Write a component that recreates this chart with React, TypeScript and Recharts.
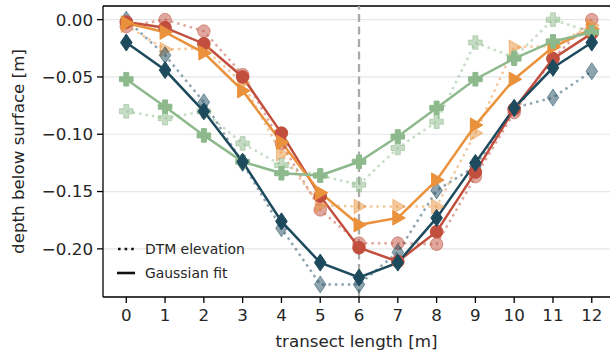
import React from 'react';
import {
  ComposedChart,
  Line,
  XAxis,
  YAxis,
  CartesianGrid,
  ReferenceLine,
  Label
} from 'recharts';

// transect positions [m]
const xs = [0, 1, 2, 3, 4, 5, 6, 7, 8, 9, 10, 11, 12];
const xTicks = [0, 1, 2, 3, 4, 5, 6, 7, 8, 9, 10, 11, 12];
const yTicks = [0, -0.05, -0.1, -0.15, -0.2];

// DTM elevation (dotted) and Gaussian fit (solid), depth below surface [m]
const redDtm = [-0.006, 0.0, -0.01, -0.048, -0.108, -0.166, -0.195, -0.195, -0.196, -0.137, -0.081, -0.034, 0.0];
const redFit = [-0.002, -0.007, -0.021, -0.05, -0.099, -0.154, -0.199, -0.211, -0.185, -0.133, -0.078, -0.034, -0.012];
const orangeDtm = [-0.005, -0.026, -0.025, -0.055, -0.117, -0.162, -0.163, -0.163, -0.163, -0.099, -0.024, -0.023, -0.005];
const orangeFit = [-0.003, -0.011, -0.029, -0.062, -0.107, -0.151, -0.179, -0.173, -0.14, -0.092, -0.052, -0.024, -0.008];
const greenDtm = [-0.08, -0.086, -0.08, -0.108, -0.127, -0.136, -0.144, -0.112, -0.089, -0.02, -0.033, 0.0, -0.011];
const greenFit = [-0.052, -0.076, -0.101, -0.124, -0.134, -0.136, -0.124, -0.102, -0.077, -0.052, -0.034, -0.019, -0.011];
const blueDtm = [0.0, -0.031, -0.072, -0.125, -0.182, -0.231, -0.231, -0.203, -0.149, -0.128, -0.077, -0.068, -0.045];
const blueFit = [-0.02, -0.044, -0.08, -0.124, -0.176, -0.212, -0.225, -0.212, -0.173, -0.125, -0.077, -0.042, -0.02];

const data = xs.map((x, i) => ({
  x,
  redDtm: redDtm[i],
  redFit: redFit[i],
  orangeDtm: orangeDtm[i],
  orangeFit: orangeFit[i],
  greenDtm: greenDtm[i],
  greenFit: greenFit[i],
  blueDtm: blueDtm[i],
  blueFit: blueFit[i],
}));

const RED = '#c24f3d';
const ORANGE = '#ea913c';
const GREEN = '#8db98c';
const BLUE = '#1d4a5d';
const TEXT = '#262626';
const FONT = '"DejaVu Sans", sans-serif';

type Shape = 'circle' | 'tri' | 'plus' | 'diamond';

const makeDot = (shape: Shape, color: string, opacity: number) => (props: any) => {
  const { cx, cy, index } = props;
  if (cx == null || cy == null) return <g key={index} />;
  let el;
  if (shape === 'circle') {
    el = <circle cx={cx} cy={cy} r={6.3} />;
  } else if (shape === 'tri') {
    el = <polygon points={`${cx + 7.5},${cy} ${cx - 5},${cy - 7.2} ${cx - 5},${cy + 7.2}`} />;
  } else if (shape === 'diamond') {
    el = <polygon points={`${cx},${cy - 8.5} ${cx + 5.8},${cy} ${cx},${cy + 8.5} ${cx - 5.8},${cy}`} />;
  } else {
    const a = 2.5;
    const s = 6.8;
    el = (
      <polygon
        points={`${cx - a},${cy - s} ${cx + a},${cy - s} ${cx + a},${cy - a} ${cx + s},${cy - a} ${cx + s},${cy + a} ${cx + a},${cy + a} ${cx + a},${cy + s} ${cx - a},${cy + s} ${cx - a},${cy + a} ${cx - s},${cy + a} ${cx - s},${cy - a} ${cx - a},${cy - a}`}
      />
    );
  }
  return (
    <g key={index} fill={color} fillOpacity={opacity} stroke={color} strokeOpacity={opacity} strokeWidth={1}>
      {el}
    </g>
  );
};

const series: { key: string; color: string; shape: Shape; dtm: boolean }[] = [
  { key: 'redDtm', color: RED, shape: 'circle', dtm: true },
  { key: 'orangeDtm', color: ORANGE, shape: 'tri', dtm: true },
  { key: 'greenDtm', color: GREEN, shape: 'plus', dtm: true },
  { key: 'blueDtm', color: BLUE, shape: 'diamond', dtm: true },
  { key: 'redFit', color: RED, shape: 'circle', dtm: false },
  { key: 'orangeFit', color: ORANGE, shape: 'tri', dtm: false },
  { key: 'greenFit', color: GREEN, shape: 'plus', dtm: false },
  { key: 'blueFit', color: BLUE, shape: 'diamond', dtm: false },
];

const fmtY = (v: number) => (v < 0 ? '\u2212' : '') + Math.abs(v).toFixed(2);

const YLabel = (props: any) => {
  const vb = props.viewBox || { x: 0, y: 6, width: 103, height: 291 };
  const x = vb.x + 18;
  const y = vb.y + vb.height / 2;
  return (
    <text
      x={x}
      y={y}
      transform={`rotate(-90 ${x} ${y})`}
      textAnchor="middle"
      dominantBaseline="central"
      fill={TEXT}
      fontSize={16.7}
      fontFamily={FONT}
    >
      depth below surface [m]
    </text>
  );
};

const XLabel = (props: any) => {
  const vb = props.viewBox || { x: 103, y: 297, width: 507, height: 59 };
  return (
    <text
      x={vb.x + vb.width / 2}
      y={vb.y + 50}
      textAnchor="middle"
      fill={TEXT}
      fontSize={16.7}
      fontFamily={FONT}
    >
      transect length [m]
    </text>
  );
};

const LegendBox = () => (
  <div
    style={{
      position: 'absolute',
      left: 116,
      top: 237,
      fontFamily: FONT,
      fontSize: 13.9,
      color: TEXT,
      lineHeight: '24px',
    }}
  >
    <div style={{ display: 'flex', alignItems: 'center' }}>
      <svg width={29} height={24}>
        <line x1={2} y1={12} x2={18} y2={12} stroke="#111" strokeWidth={2.6} strokeDasharray="2.6 4" />
      </svg>
      <span>DTM elevation</span>
    </div>
    <div style={{ display: 'flex', alignItems: 'center' }}>
      <svg width={29} height={24}>
        <line x1={1} y1={12} x2={19} y2={12} stroke="#111" strokeWidth={2.6} />
      </svg>
      <span>Gaussian fit</span>
    </div>
  </div>
);

const yDomain: [number, number] = [-0.242, 0.0119];

export default function App() {
  return (
    <div style={{ position: 'absolute', left: 0, top: 0, width: 610, height: 356, background: '#fff' }}>
      <ComposedChart width={610} height={356} data={data} margin={{ top: 6, right: 0, left: 0, bottom: 0 }}>
        <CartesianGrid vertical={false} stroke="#e6e6e6" strokeWidth={1.2} />
        <XAxis
          dataKey="x"
          type="number"
          domain={[-0.6, 12.47]}
          allowDataOverflow
          ticks={xTicks}
          interval={0}
          height={59}
          tickSize={6}
          tickMargin={6}
          stroke="#000"
          strokeWidth={1.3}
          tick={{ fill: TEXT, fontSize: 16.7, fontFamily: FONT }}
        >
          <Label content={XLabel} />
        </XAxis>
        <YAxis
          type="number"
          domain={yDomain}
          allowDataOverflow
          ticks={yTicks}
          interval={0}
          width={103}
          tickSize={6}
          tickMargin={4}
          tickFormatter={fmtY}
          stroke="#000"
          strokeWidth={1.3}
          tick={{ fill: TEXT, fontSize: 16.7, fontFamily: FONT }}
        >
          <Label content={YLabel} />
        </YAxis>
        <ReferenceLine y={yDomain[1]} stroke="#000" strokeWidth={1.3} />
        <ReferenceLine x={6} stroke="#aaaaaa" strokeWidth={2.3} strokeDasharray="8 4.5" />
        {series.map((s) => (
          <Line
            key={s.key}
            dataKey={s.key}
            type="linear"
            stroke={s.color}
            strokeWidth={2.5}
            strokeOpacity={s.dtm ? 0.5 : 1}
            strokeDasharray={s.dtm ? '2.5 4' : undefined}
            dot={makeDot(s.shape, s.color, s.dtm ? 0.5 : 1)}
            activeDot={false}
            isAnimationActive={false}
          />
        ))}
      </ComposedChart>
      <LegendBox />
    </div>
  );
}
